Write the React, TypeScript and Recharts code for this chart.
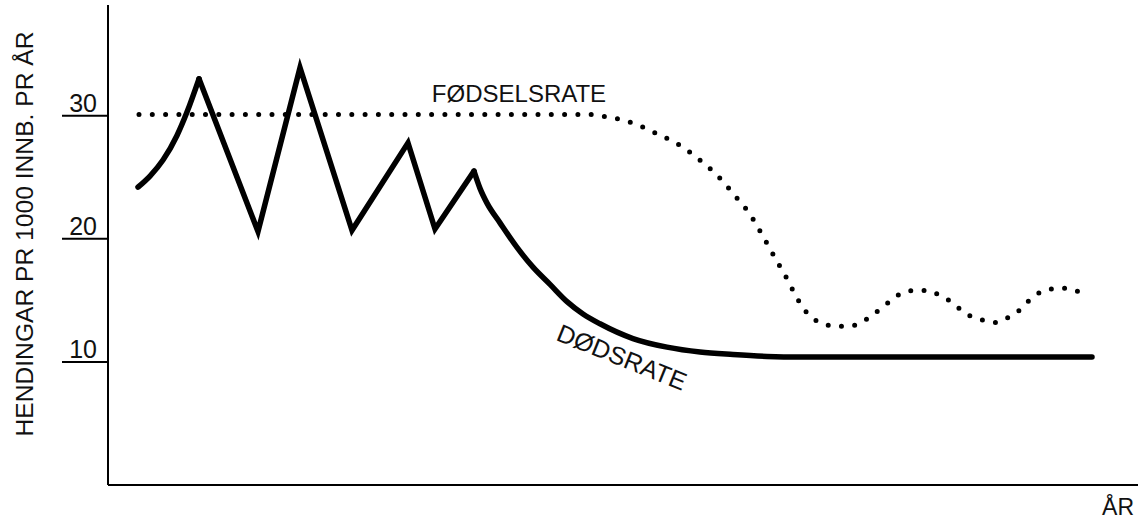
import React from 'react';
import { LineChart, Line, XAxis, YAxis, ReferenceDot } from 'recharts';

// x: time (arbitrary year units 0..103), y: events per 1000 inhabitants per year
// Death rate, read in three stretches: smooth rise, sharp zigzag, smooth decay
const deathRiseX = [3.0, 4.2, 5.5, 6.9, 7.9, 9.1];
const deathRiseY = [24.2, 25.1, 26.4, 28.4, 30.3, 33.0];
const deathZigX = [9.1, 15.0, 19.2, 24.4, 30.0, 32.7, 36.6];
const deathZigY = [33.0, 20.6, 33.9, 20.7, 27.8, 20.8, 25.5];
const deathFallX = [36.6, 37.2, 37.9, 39.2, 40.9, 42.5, 44.2, 45.9, 47.5, 49.2, 52.5, 55.9, 59.2, 62.5, 65.9, 69.2, 98.4];
const deathFallY = [25.5, 24.1, 22.9, 21.3, 19.3, 17.7, 16.3, 14.9, 13.9, 13.1, 11.9, 11.2, 10.8, 10.6, 10.45, 10.4, 10.4];

const birthX = [3.1, 48.2, 49.2, 52.5, 55.0, 57.2, 59.2, 61.0, 62.7, 64.2, 65.5, 66.6, 67.8, 68.9, 69.5, 70.4, 71.5, 72.8, 74.0, 75.3, 76.4, 77.4, 78.3, 79.4, 80.7, 82.0, 83.2, 84.3, 85.2, 86.3, 87.5, 88.8, 90.0, 91.0, 92.0, 92.9, 94.1, 95.4, 96.7, 97.9];
const birthY = [30.1, 30.1, 30.0, 29.4, 28.5, 27.6, 26.4, 25.1, 23.5, 22.0, 20.2, 18.6, 16.9, 15.2, 14.4, 13.6, 13.1, 12.9, 12.9, 13.2, 13.8, 14.4, 15.0, 15.6, 15.8, 15.8, 15.4, 14.9, 14.3, 13.7, 13.4, 13.2, 13.6, 14.1, 14.9, 15.5, 15.9, 16.0, 15.8, 15.4];

const yTicks = [10, 20, 30];
const yDomain = [0, 39];
const xDomain = [0, 103];

const yAxisTitle = 'HENDINGAR PR 1000 INNB. PR ÅR';
const xAxisTitle = 'ÅR';
const birthLabel = 'FØDSELSRATE';
const deathLabel = 'DØDSRATE';
const birthLabelPos = { x: 41.1, y: 31.1 };
const deathLabelPos = { x: 51.4, y: 10.4 };

const toData = (xs: number[], ys: number[]) => xs.map((x, i) => ({ x, v: ys[i] }));
const deathRise = toData(deathRiseX, deathRiseY);
const deathZig = toData(deathZigX, deathZigY);
const deathFall = toData(deathFallX, deathFallY);
const birthData = toData(birthX, birthY);

const FONT = '"Liberation Sans", Arial, sans-serif';

const YTick = (props: any) => {
  const { x, y, payload } = props;
  return (
    <g>
      <line x1={x - 46} y1={y} x2={x} y2={y} stroke="#000" strokeWidth={2} />
      <text x={x - 11} y={y - 4} textAnchor="end" fontFamily={FONT} fontSize={25} fill="#111">
        {payload.value}
      </text>
    </g>
  );
};

const YTitle = (props: any) => {
  const vb = props.viewBox || {};
  const cx = 25;
  const cy = vb.y + vb.height / 2 - 11;
  return (
    <text
      x={cx}
      y={cy}
      transform={`rotate(-90, ${cx}, ${cy})`}
      textAnchor="middle"
      dominantBaseline="central"
      fontFamily={FONT}
      fontSize={23}
      fill="#111"
      textLength={405}
      lengthAdjust="spacingAndGlyphs"
    >
      {yAxisTitle}
    </text>
  );
};

const XTitle = (props: any) => {
  const vb = props.viewBox || {};
  return (
    <text x={vb.x + vb.width - 4} y={vb.y + 30} textAnchor="end" fontFamily={FONT} fontSize={23} fill="#111">
      {xAxisTitle}
    </text>
  );
};

const BirthText = (props: any) => (
  <text x={props.cx} y={props.cy} textAnchor="middle" fontFamily={FONT} fontSize={24} fill="#111">
    {birthLabel}
  </text>
);

const DeathText = (props: any) => (
  <text
    x={props.cx}
    y={props.cy}
    transform={`rotate(22, ${props.cx}, ${props.cy})`}
    textAnchor="middle"
    dominantBaseline="central"
    fontFamily={FONT}
    fontSize={25}
    fill="#111"
  >
    {deathLabel}
  </text>
);

const solid = {
  dataKey: 'v',
  stroke: '#000',
  strokeWidth: 5.5,
  strokeLinecap: 'round' as const,
  strokeLinejoin: 'miter' as const,
  dot: false,
  activeDot: false,
  isAnimationActive: false,
};

export default function App() {
  return (
    <div style={{ position: 'absolute', left: 0, top: 0, background: '#fff' }}>
      <LineChart width={1143} height={527} margin={{ top: 5, right: 5, left: 0, bottom: 0 }}>
        <XAxis
          type="number"
          dataKey="x"
          domain={xDomain}
          ticks={[]}
          tick={false}
          tickLine={false}
          height={42}
          axisLine={{ stroke: '#000', strokeWidth: 2 }}
          label={<XTitle />}
          allowDataOverflow
        />
        <YAxis
          type="number"
          domain={yDomain}
          ticks={yTicks}
          tick={<YTick />}
          tickLine={false}
          tickSize={0}
          tickMargin={0}
          width={108}
          axisLine={{ stroke: '#000', strokeWidth: 2 }}
          label={<YTitle />}
          allowDataOverflow
        />
        <Line
          data={birthData}
          dataKey="v"
          type="monotone"
          stroke="#000"
          strokeWidth={5}
          strokeDasharray="0 13.3"
          strokeLinecap="round"
          dot={false}
          activeDot={false}
          isAnimationActive={false}
        />
        <Line data={deathRise} type="monotone" {...solid} />
        <Line data={deathZig} type="linear" {...solid} />
        <Line data={deathFall} type="monotone" {...solid} />
        <ReferenceDot x={birthLabelPos.x} y={birthLabelPos.y} r={0} shape={<BirthText />} />
        <ReferenceDot x={deathLabelPos.x} y={deathLabelPos.y} r={0} shape={<DeathText />} />
      </LineChart>
    </div>
  );
}
